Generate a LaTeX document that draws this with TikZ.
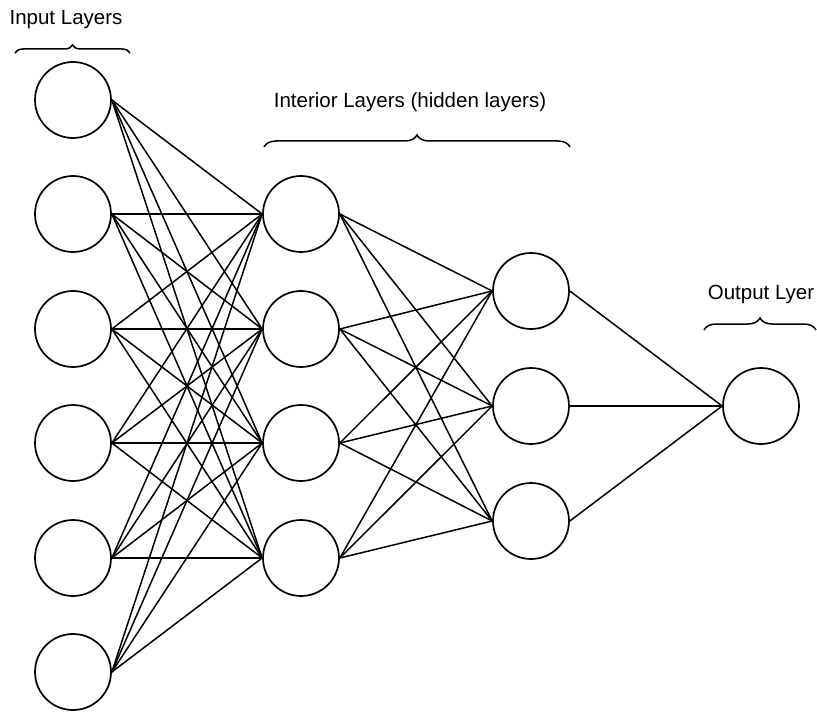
\documentclass[tikz,border=0pt]{standalone}
\usepackage{fontspec}
\setmainfont{Liberation Sans}
\usetikzlibrary{decorations.pathreplacing}
\begin{document}
\begin{tikzpicture}[x=1pt,y=1pt,
  neuron/.style={circle,draw,line width=1.7pt,minimum size=76pt,inner sep=0pt},
  conn/.style={line width=1.5pt},
  brace/.style={decorate,decoration={brace,amplitude=8pt},line width=1.5pt},
  lbl/.style={font=\fontsize{20.5}{24}\selectfont,inner sep=0pt}]
\useasboundingbox (0,0) rectangle (817,-714);
% input layer
\foreach \i/\y in {1/100,2/214,3/329,4/443,5/558,6/672}
  \node[neuron] (i\i) at (73,-\y) {};
% hidden layer 1
\foreach \i/\y in {1/214,2/329,3/443,4/558}
  \node[neuron] (h\i) at (301,-\y) {};
% hidden layer 2
\foreach \i/\y in {1/291,2/406,3/521}
  \node[neuron] (g\i) at (531,-\y) {};
% output
\node[neuron] (o) at (761,-406) {};
% connections
\foreach \a in {1,...,6}
  \foreach \b in {1,...,4}
    \draw[conn] (i\a.east) -- (h\b.west);
\foreach \a in {1,...,4}
  \foreach \b in {1,...,3}
    \draw[conn] (h\a.east) -- (g\b.west);
\foreach \a in {1,...,3}
  \draw[conn] (g\a.east) -- (o.west);
% braces and labels
\coordinate (b1l) at (15,-53);
\coordinate (b1r) at (130,-53);
\draw[brace] (b1l) -- (b1r);
\node[lbl] (t1) at (66,-20) {Input Layers};
\coordinate (b2l) at (264,-147);
\coordinate (b2r) at (570,-147);
\draw[brace,decoration={amplitude=12pt}] (b2l) -- (b2r);
\node[lbl] (t2) at (410,-102) {Interior Layers (hidden layers)};
\coordinate (b3l) at (704,-330);
\coordinate (b3r) at (816,-330);
\draw[brace,decoration={amplitude=12pt}] (b3l) -- (b3r);
\node[lbl] (t3) at (761,-294) {Output Lyer};
\end{tikzpicture}
\end{document}
